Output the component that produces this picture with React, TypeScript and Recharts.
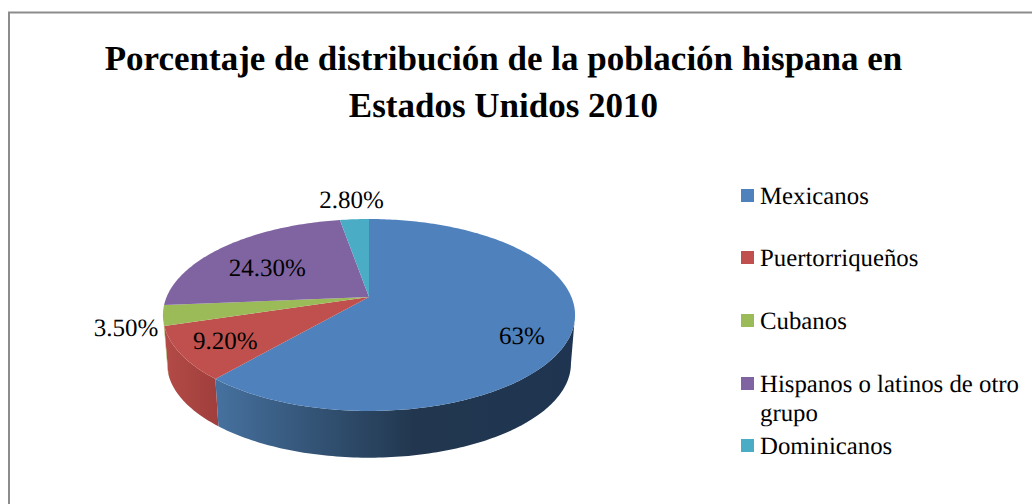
import React from "react";
import { PieChart, Pie, Legend } from "recharts";

const categories = ["Mexicanos", "Puertorriqueños", "Cubanos", "Hispanos o latinos de otro grupo", "Dominicanos"];
const shares = [63, 9.2, 3.5, 24.3, 2.8];
const shareLabels = ["63%", "9.20%", "3.50%", "24.30%", "2.80%"];
const colors = ["#4f81bd", "#c0504d", "#9bbb59", "#8064a2", "#4bacc6"];
const titleLines = ["Porcentaje de distribución de la población hispana en", "Estados Unidos 2010"];

const rows = categories.map((name, i) => ({ name, value: shares[i], label: shareLabels[i], fill: colors[i] }));

const FONT = "'Liberation Serif', 'Times New Roman', serif";
const W = 1032, H = 504;
const CX = 369, CY = 297;
// perspective projection of the tilted disc
const PERSP = 0.1875, SX = 202.4, SY = 92.6, DEPTH = 49, WALL_SCALE = 0.98;
const labelNudge = [[-50, 5], [45, -12], [-37, 13], [42, 22], [-3, -19]];

const rad = (d: number) => (d * Math.PI) / 180;
function project(phi: number, r = 1) {
  const s = Math.sin(rad(phi)), c = Math.cos(rad(phi));
  const d = 1 + PERSP * c * r;
  return { x: CX + (SX * r * s) / d, y: CY - (SY * r * c) / d };
}
function rim(a: number, b: number) {
  const n = Math.max(2, Math.ceil(Math.abs(b - a)));
  const pts = [];
  for (let i = 0; i <= n; i++) pts.push(project(a + ((b - a) * i) / n));
  return pts;
}
const toPath = (pts: { x: number; y: number }[]) =>
  pts.map((p, i) => `${i ? "L" : "M"}${p.x.toFixed(2)} ${p.y.toFixed(2)}`).join("") + "Z";

const PHI_WIDE = (Math.acos(-PERSP) * 180) / Math.PI;

function TopSlice(props: any) {
  const a = 90 - props.startAngle, b = 90 - props.endAngle;
  return <path d={toPath([{ x: CX, y: CY }, ...rim(a, b)])} fill={props.fill} stroke="none" />;
}

function WallSlice(props: any) {
  const a = Math.max(90 - props.startAngle, PHI_WIDE);
  const b = Math.min(90 - props.endAngle, 360 - PHI_WIDE);
  if (b <= a) return null;
  const top = rim(a, b);
  const bottom = [...top].reverse().map((p) => ({
    x: CX + (p.x - CX) * WALL_SCALE,
    y: CY + (p.y - CY) * WALL_SCALE + DEPTH,
  }));
  const gid = props.index === 0 ? "url(#wallBlue)" : props.index === 1 ? "url(#wallRed)" : props.fill;
  return <path d={toPath([...top, ...bottom])} fill={gid} stroke="none" />;
}

function SliceLabel(props: any) {
  const p = project(90 - props.midAngle);
  const [dx, dy] = labelNudge[props.index];
  return (
    <text x={p.x + dx} y={p.y + dy} textAnchor="middle" dominantBaseline="central"
      fontFamily={FONT} fontSize={25} fill="#000" textRendering="geometricPrecision">
      {props.payload?.label ?? props.label}
    </text>
  );
}

function LegendBox({ payload }: any) {
  const tops = [182, 244, 307, 370, 432];
  const items = categories.map((name) => (payload || []).find((e: any) => e.value === name)).filter(Boolean);
  return (
    <div style={{ position: "relative", width: 291, height: 300, fontFamily: FONT, fontSize: 24.8, lineHeight: "29px", color: "#000", textRendering: "geometricPrecision" }}>
      {items.map((e: any, i: number) => (
        <div key={e.value} style={{ position: "absolute", left: 0, top: tops[i] - 181, display: "flex", width: 291 }}>
          <span style={{ width: 13, height: 13, background: e.color, marginTop: 7, marginRight: 6, flex: "none" }} />
          <span>{e.value}</span>
        </div>
      ))}
    </div>
  );
}

export default function App() {
  return (
    <div style={{ position: "absolute", left: 0, top: 0, width: W, height: H, background: "#fff", overflow: "hidden" }}>
      <PieChart width={W} height={H} margin={{ top: 0, right: 0, bottom: 0, left: 0 }}>
        <defs>
          <linearGradient id="wallBlue" gradientUnits="userSpaceOnUse" x1="216" y1="0" x2="575" y2="0">
            <stop offset="0" stopColor="#46719f" />
            <stop offset="0.25" stopColor="#355679" />
            <stop offset="0.55" stopColor="#22374f" />
            <stop offset="1" stopColor="#1f3450" />
          </linearGradient>
          <linearGradient id="wallRed" gradientUnits="userSpaceOnUse" x1="165" y1="0" x2="216" y2="0">
            <stop offset="0" stopColor="#b34b47" />
            <stop offset="1" stopColor="#a03f3c" />
          </linearGradient>
        </defs>
        <path d={`M9 ${H}V12.5H${W}`} fill="none" stroke="#8c8c8c" strokeWidth={2} />
        {titleLines.map((t, i) => (
          <text key={t} x={503.5} y={70 + i * 47} textAnchor="middle" fontFamily={FONT} fontWeight="bold" fontSize={35} fill="#000" textRendering="geometricPrecision">{t}</text>
        ))}
        <Pie data={rows} dataKey="value" nameKey="name" cx={CX} cy={CY} outerRadius={100} startAngle={90} endAngle={-270}
          isAnimationActive={false} shape={WallSlice} legendType="none" label={false} labelLine={false} />
        <Pie data={rows} dataKey="value" nameKey="name" cx={CX} cy={CY} outerRadius={100} startAngle={90} endAngle={-270}
          isAnimationActive={false} shape={TopSlice} label={SliceLabel} labelLine={false} />
        <Legend layout="vertical" align="left" verticalAlign="top" content={<LegendBox />} itemSorter={null}
          wrapperStyle={{ position: "absolute", left: 741, top: 181, width: 291 }} />
      </PieChart>
    </div>
  );
}
